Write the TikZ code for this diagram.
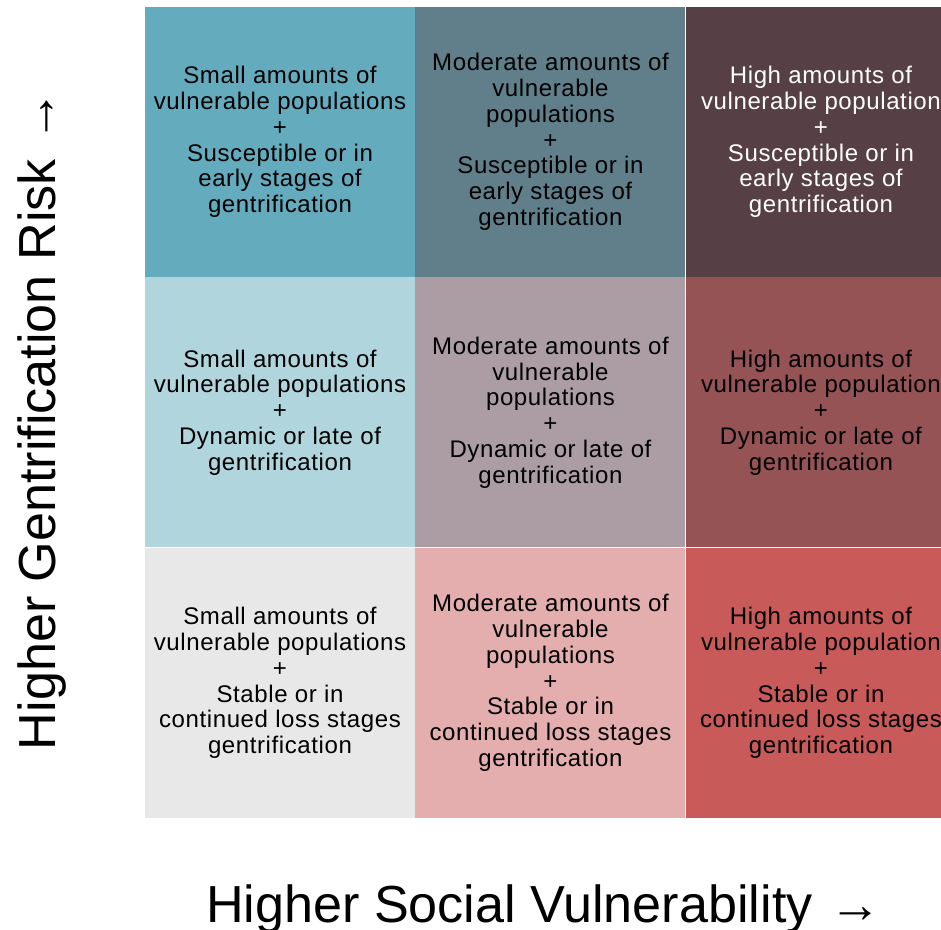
\documentclass[tikz,border=0pt]{standalone}
\usepackage{fontspec}
\setmainfont{Liberation Sans}
\newfontfamily\cellfont[LetterSpace=2.5]{Liberation Sans}
\usetikzlibrary{positioning}
\definecolor{gxHighLow}{RGB}{100,171,189}
\definecolor{gxHighMid}{RGB}{96,127,138}
\definecolor{gxHighHigh}{RGB}{87,63,70}
\definecolor{gxMidLow}{RGB}{176,213,221}
\definecolor{gxMidMid}{RGB}{172,157,164}
\definecolor{gxMidHigh}{RGB}{149,83,86}
\definecolor{gxLowLow}{RGB}{232,232,232}
\definecolor{gxLowMid}{RGB}{228,173,174}
\definecolor{gxLowHigh}{RGB}{200,90,90}

\begin{document}
\begin{tikzpicture}[
  x=0.03cm, y=-0.03cm,
  node distance=0pt,
  cell/.style={minimum width=8.1cm, minimum height=8.1cm, inner sep=0pt, align=center, font=\cellfont\fontsize{20.5}{22}\selectfont},
  axislabel/.style={font=\fontsize{44.5}{48}\selectfont, inner sep=0pt}
]
\useasboundingbox (0,0) rectangle (941,930);
\clip (0,0) rectangle (941,930);

% top row: susceptible / early stages
\node[cell, fill=gxHighLow] at (280,142) (c11) {Small amounts of\\vulnerable populations\\+\\Susceptible or in\\early stages of\\gentrification};
\node[cell, fill=gxHighMid, right=of c11] (c12) {Moderate amounts of\\vulnerable\\populations\\+\\Susceptible or in\\early stages of\\gentrification};
\node[cell, fill=gxHighHigh, text=white, right=of c12] (c13) {High amounts of\\vulnerable population\\+\\Susceptible or in\\early stages of\\gentrification};

% middle row: dynamic or late
\node[cell, fill=gxMidLow, below=of c11] (c21) {Small amounts of\\vulnerable populations\\+\\Dynamic or late of\\gentrification};
\node[cell, fill=gxMidMid, right=of c21] (c22) {Moderate amounts of\\vulnerable\\populations\\+\\Dynamic or late of\\gentrification};
\node[cell, fill=gxMidHigh, right=of c22] (c23) {High amounts of\\vulnerable population\\+\\Dynamic or late of\\gentrification};

% bottom row: stable / continued loss
\node[cell, fill=gxLowLow, below=of c21] (c31) {Small amounts of\\vulnerable populations\\+\\Stable or in\\continued loss stages\\gentrification};
\node[cell, fill=gxLowMid, right=of c31] (c32) {Moderate amounts of\\vulnerable\\populations\\+\\Stable or in\\continued loss stages\\gentrification};
\node[cell, fill=gxLowHigh, right=of c32] (c33) {High amounts of\\vulnerable population\\+\\Stable or in\\continued loss stages\\gentrification};

% axis titles
\node[axislabel, anchor=base] at (544,922) (xlab) {Higher Social Vulnerability\hspace{0.05em} →};
\node[axislabel, anchor=base, rotate=90] at (55,420) (ylab) {Higher Gentrification Risk\hspace{0.05em} →};

\end{tikzpicture}
\end{document}
